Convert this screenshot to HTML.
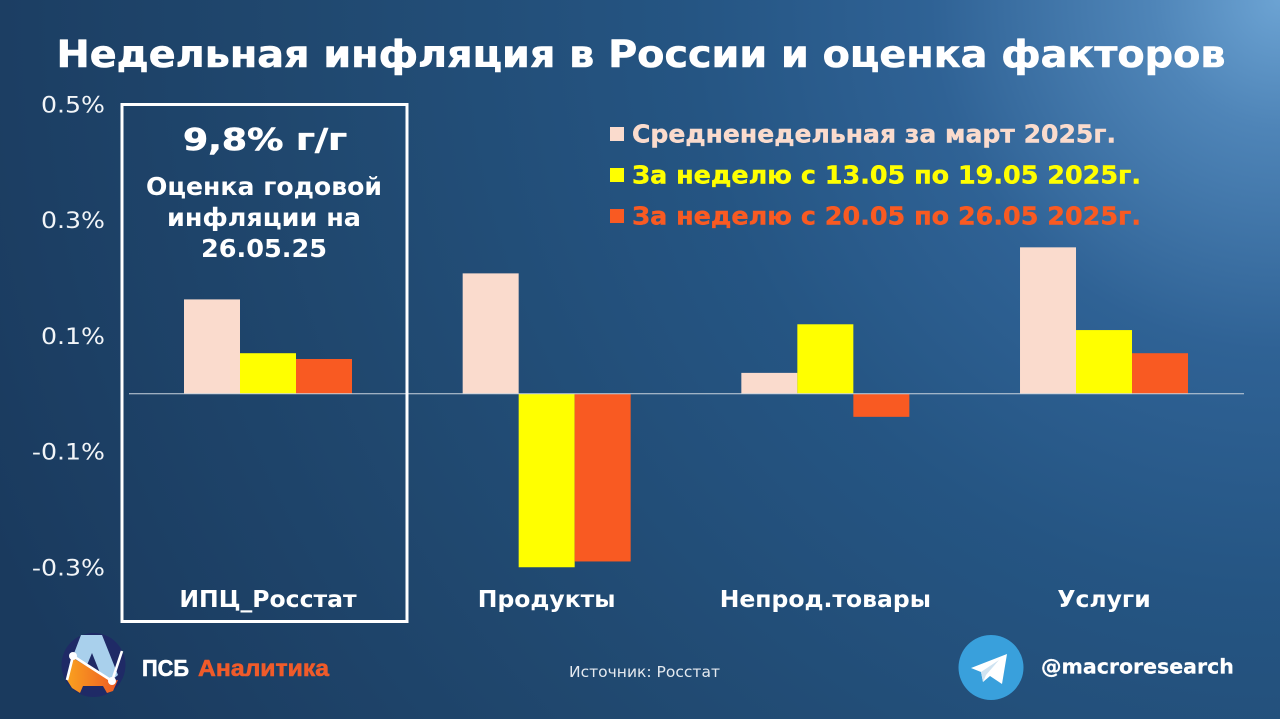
<!DOCTYPE html>
<html lang="ru">
<head>
<meta charset="utf-8">
<title>Недельная инфляция в России и оценка факторов</title>
<style>
html,body{margin:0;padding:0;width:1280px;height:719px;overflow:hidden;background:#1d4268}
svg{display:block}
text{font-family:"DejaVu Sans","Liberation Sans",sans-serif}
.b{font-weight:700}
.heavy{stroke-width:.6;stroke-linejoin:round}
</style>
</head>
<body>
<svg id="chart" xmlns="http://www.w3.org/2000/svg" width="1280" height="719" viewBox="0 0 1280 719">
<defs>
<radialGradient id="bg" gradientUnits="userSpaceOnUse" cx="1280" cy="0" r="1400">
<stop offset="0" stop-color="#6ca3d3"/>
<stop offset="0.09" stop-color="#4f85b8"/>
<stop offset="0.25" stop-color="#2f6295"/>
<stop offset="0.42" stop-color="#255583"/>
<stop offset="0.7" stop-color="#20486f"/>
<stop offset="1" stop-color="#1a3a5e"/>
</radialGradient>
<linearGradient id="logo-orange" x1="0" y1="0" x2="1" y2="0">
<stop offset="0" stop-color="#f9a11f"/>
<stop offset="1" stop-color="#ee5a24"/>
</linearGradient>
</defs>
<rect width="1280" height="719" fill="url(#bg)"/>
<text x="641" y="67" text-anchor="middle" class="b heavy" font-size="37" fill="#fff" stroke="#fff" textLength="1169" lengthAdjust="spacingAndGlyphs">Недельная инфляция в России и оценка факторов</text>

<g id="y-axis"></g>
<g id="bars"></g>
<g id="x-axis"></g>

<rect x="122" y="104.5" width="285" height="517" fill="none" stroke="#fff" stroke-width="3"/>
<text x="265" y="150" text-anchor="middle" class="b heavy" font-size="30" fill="#fff" stroke="#fff" textLength="164" lengthAdjust="spacingAndGlyphs">9,8% г/г</text>
<g class="b" font-size="24.5" fill="#fff" text-anchor="middle">
<text x="264" y="195" textLength="236" lengthAdjust="spacingAndGlyphs">Оценка годовой</text>
<text x="264" y="226" textLength="194" lengthAdjust="spacingAndGlyphs">инфляции на</text>
<text x="264" y="257" textLength="126" lengthAdjust="spacingAndGlyphs">26.05.25</text>
</g>

<g id="legend"></g>

<g>
<circle cx="93.5" cy="665" r="32" fill="#1f2a66"/>
<path d="M73 658 L67 680 L72 688 L80 693 L83 686 L103 686 L107 693 L113 691 L118 680 L112 681 Z" fill="url(#logo-orange)"/>
<path d="M81 635 L102 635 L118 675 L112 680 L100 673 L92 653 L87 665 L73 656 Z" fill="#a9d0ec"/>
<polyline points="67,680 73,656 112,681 122,651" fill="none" stroke="#fff" stroke-width="2.6"/>
<circle cx="73" cy="656" r="4" fill="#fff"/>
<circle cx="112" cy="681" r="4" fill="#fff"/>
</g>
<text x="142" y="676" style="font-family:'Liberation Sans',sans-serif" class="b heavy" font-size="23" fill="#fff" stroke="#fff" textLength="47" lengthAdjust="spacingAndGlyphs">ПСБ</text>
<text x="198" y="676" style="font-family:'Liberation Sans',sans-serif" class="b heavy" font-size="23" fill="#ef5b2a" stroke="#ef5b2a" textLength="131" lengthAdjust="spacingAndGlyphs">Аналитика</text>

<text x="569" y="677" font-size="15" fill="#e4e9ef" textLength="151" lengthAdjust="spacingAndGlyphs">Источник: Росстат</text>

<g>
<circle cx="991" cy="667.5" r="32.5" fill="#39a0dc"/>
<path d="M971 668 L1007 654 L1002 684 L990 676 L983 682 L981 672 Z" fill="#fff"/>
<path d="M981 672 L999 660 L986 675 L983 682 Z" fill="#cfe3f1"/>
<text x="1041" y="673.5" class="b" font-size="20.5" fill="#fff" stroke="#fff" stroke-width="0.2">@macroresearch</text>
</g>
</svg>
<script>
const categories = ["ИПЦ_Росстат", "Продукты", "Непрод.товары", "Услуги"];
const seriesNames = ["Средненедельная за март 2025г.", "За неделю с 13.05 по 19.05 2025г.", "За неделю с 20.05 по 26.05 2025г."];
const seriesColors = ["#fadbcd", "#ffff00", "#f95a22"];
const marchAverage = [0.163, 0.208, 0.036, 0.253];
const weekMay13 = [0.07, -0.30, 0.12, 0.11];
const weekMay20 = [0.06, -0.29, -0.04, 0.07];
const yTicks = [0.5, 0.3, 0.1, -0.1, -0.3];
const yTickLabels = ["0.5%", "0.3%", "0.1%", "-0.1%", "-0.3%"];

const NS = "http://www.w3.org/2000/svg";
const plotLeft = 129, plotRight = 1244;
const barWidth = 56;
const yScale = v => 393.7 - v * 578.5;
const groupCenter = i => 268 + 278.67 * i;
const allSeries = [marchAverage, weekMay13, weekMay20];

function make(tag, parent, attrs, txt) {
  const el = document.createElementNS(NS, tag);
  for (const k in attrs) el.setAttribute(k, attrs[k]);
  if (txt !== undefined) el.textContent = txt;
  parent.appendChild(el);
  return el;
}
function stretch(el, factor) {
  el.setAttribute('textLength', el.getComputedTextLength() * factor);
  el.setAttribute('lengthAdjust', 'spacingAndGlyphs');
}

const yAxis = document.getElementById("y-axis");
yTicks.forEach((t, i) => {
  const lab = make("text", yAxis, {x: 105, y: yScale(t) + 8, "text-anchor": "end", "font-size": 22.5, fill: "#f2f5f8"}, yTickLabels[i]);
  
  
  stretch(lab, 1.12);
});

const barsG = document.getElementById("bars");
allSeries.forEach((vals, s) => {
  vals.forEach((v, i) => {
    const x = groupCenter(i) + (s - 1.5) * barWidth;
    const y0 = yScale(0), y1 = yScale(v);
    const r = make("rect", barsG, {x: x, y: Math.min(y0, y1), width: barWidth, height: Math.abs(y1 - y0), fill: seriesColors[s]});
    
    
  });
});

const xAxis = document.getElementById("x-axis");
const axisLine = make("line", xAxis, {x1: plotLeft, x2: plotRight, y1: yScale(0), y2: yScale(0), stroke: "#c9d3dd", "stroke-width": 1});


categories.forEach((c, i) => {
  const t = make("text", xAxis, {x: groupCenter(i), y: 607, "text-anchor": "middle", "font-size": 23.5, "font-weight": 700, fill: "#fff"}, c);
  
  
});

const legend = document.getElementById("legend");
const legendWidths = [484, 509, 509];
seriesNames.forEach((n, s) => {
  const y = 134 + s * 41;
  const sq = make("rect", legend, {x: 610, y: y - 7, width: 14, height: 14, fill: seriesColors[s]});
  
  
  const t = make("text", legend, {x: 632, y: y + 8.5, "font-size": 24.5, "font-weight": 700, fill: seriesColors[s], stroke: seriesColors[s], "stroke-width": 0.4, textLength: legendWidths[s], lengthAdjust: "spacingAndGlyphs"}, n);
  
  
});
</script>
</body>
</html>
